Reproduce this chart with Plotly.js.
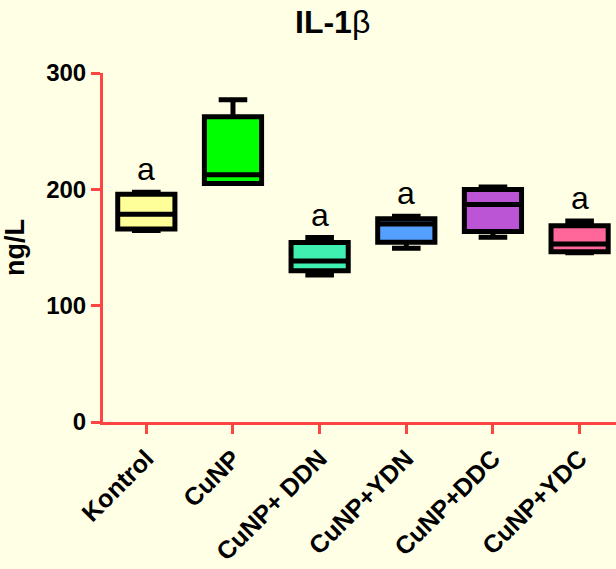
<!DOCTYPE html>
<html><head><meta charset="utf-8">
<script src="https://cdn.plot.ly/plotly-3.0.1.min.js"></script>
<style>html,body{margin:0;padding:0;background:#FFFFE6;}</style>
</head><body><div id="chart" style="width:616px;height:569px;"></div>
<script>
const categories = ['Kontrol', 'CuNP', 'CuNP+ DDN', 'CuNP+YDN', 'CuNP+DDC', 'CuNP+YDC'];
const minValues = [164.6, 205.0, 126.4, 149.3, 158.8, 145.5];
const q1Values = [166.0, 205.0, 130.1, 154.5, 163.7, 146.4];
const medianValues = [178.6, 212.5, 138.4, 170.3, 186.9, 153.0];
const q3Values = [195.8, 262.5, 154.2, 174.8, 199.8, 168.8];
const maxValues = [197.5, 276.9, 158.6, 176.9, 202.0, 172.8];
const fillColors = ['#FFFF99', '#00FF00', '#40F0B0', '#55A0FF', '#BB55D5', '#FF6699'];
const letters = ['a', '', 'a', 'a', '', 'a'];
const yTicks = [0, 100, 200, 300];

const FONT = 'Arial, "Liberation Sans", sans-serif';
const RED = '#FF4444';

const traces = categories.map((c, i) => ({
  type: 'box',
  x: [c],
  q1: [q1Values[i]],
  median: [medianValues[i]],
  q3: [q3Values[i]],
  lowerfence: [minValues[i]],
  upperfence: [maxValues[i]],
  fillcolor: fillColors[i],
  line: {color: '#000000', width: 5},
  width: 0.66,
  whiskerwidth: 0.5,
  boxpoints: false,
  hoverinfo: 'skip'
}));

const annotations = [];
letters.forEach((t, i) => {
  if (t) annotations.push({
    x: categories[i], y: maxValues[i], xref: 'x', yref: 'y',
    text: t, showarrow: false, yanchor: 'bottom', yshift: 3,
    font: {family: FONT, size: 32, color: '#000'}
  });
});

const layout = {
  width: 616, height: 569, autosize: false,
  margin: {l: 103, r: 0, t: 73, b: 147, pad: 0},
  paper_bgcolor: '#FFFFE6', plot_bgcolor: '#FFFFE6',
  showlegend: false,
  title: {text: '<b>IL-1</b>β', font: {family: FONT, size: 32, color: '#000'},
          xref: 'container', x: 0.54, xanchor: 'center', yref: 'container', y: 0.962, yanchor: 'middle'},
  xaxis: {
    type: 'category', categoryorder: 'array', categoryarray: categories,
    range: [-0.5, 5.42], showline: true, linecolor: RED, linewidth: 3,
    ticks: 'outside', ticklen: 9, tickwidth: 3, tickcolor: RED,
    tickangle: -45, showgrid: false, zeroline: false, ticklabelstandoff: 0,
    tickfont: {family: FONT, size: 25, color: '#000', weight: 'bold'}
  },
  yaxis: {
    range: [0, 300], tickvals: yTicks, ticktext: yTicks.map(String),
    showline: true, linecolor: RED, linewidth: 3,
    ticks: 'outside', ticklen: 9, tickwidth: 3, tickcolor: RED,
    showgrid: false, zeroline: false, automargin: false,
    tickfont: {family: FONT, size: 24, color: '#000', weight: 'bold'},
    title: {text: 'ng/L', standoff: 14, font: {family: FONT, size: 27, color: '#000', weight: 'bold'}}
  },
  annotations: annotations
};

Plotly.newPlot('chart', traces, layout, {displayModeBar: false, staticPlot: true});
</script></body></html>
